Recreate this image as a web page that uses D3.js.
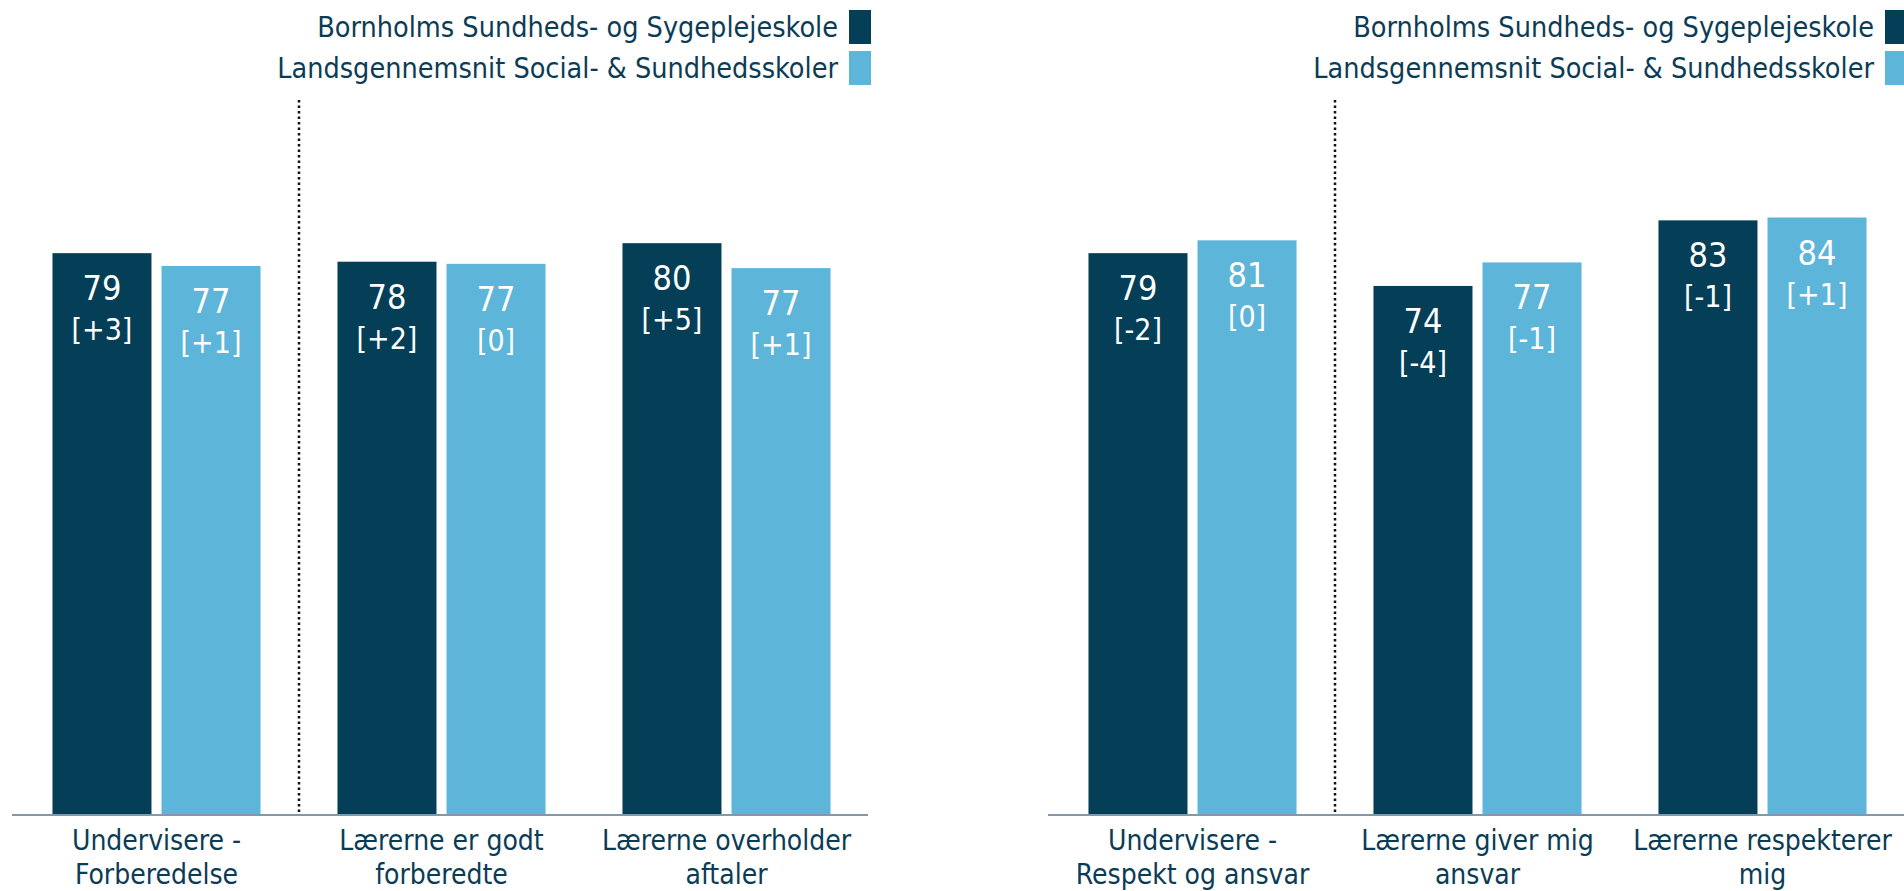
<!DOCTYPE html>
<html>
<head>
<meta charset="utf-8">
<script src="https://cdn.jsdelivr.net/npm/d3@7"></script>
<style>
  html, body { margin: 0; padding: 0; background: #fff; }
  svg { display: block; }
  text { font-family: "DejaVu Sans Condensed", "DejaVu Sans", sans-serif; font-stretch: condensed; }
</style>
</head>
<body>
<svg id="chart" width="1904" height="891"></svg>
<script>
// ---- data ----
const seriesNames = ["Bornholms Sundheds- og Sygeplejeskole", "Landsgennemsnit Social- & Sundhedsskoler"];
const leftCategories = [["Undervisere -", "Forberedelse"], ["Lærerne er godt", "forberedte"], ["Lærerne overholder", "aftaler"]];
const leftSchool = [78.8, 77.6, 80.2];
const leftNational = [77.0, 77.3, 76.7];
const leftSchoolDiff = ["[+3]", "[+2]", "[+5]"];
const leftNationalDiff = ["[+1]", "[0]", "[+1]"];
const leftLabelsSchool = [79, 78, 80];
const leftLabelsNational = [77, 77, 77];

const rightCategories = [["Undervisere -", "Respekt og ansvar"], ["Lærerne giver mig", "ansvar"], ["Lærerne respekterer", "mig"]];
const rightSchool = [78.8, 74.2, 83.4];
const rightNational = [80.6, 77.5, 83.8];
const rightSchoolDiff = ["[-2]", "[-4]", "[-1]"];
const rightNationalDiff = ["[0]", "[-1]", "[+1]"];
const rightLabelsSchool = [79, 74, 83];
const rightLabelsNational = [81, 77, 84];

const colors = ["#043F57", "#5EB5DA"];
const textColor = "#0B3C56";

const svg = d3.select("#chart");

function drawPanel(offsetX, cats, school, national, schoolLbl, nationalLbl, schoolDiff, nationalDiff) {
  const g = svg.append("g").attr("transform", `translate(${offsetX},0)`);
  const keys = cats.map((c, i) => i);
  const x0 = d3.scaleBand().domain(keys).range([14, 869]).paddingInner(0.27).paddingOuter(0.135);
  const x1 = d3.scaleBand().domain([0, 1]).range([0, x0.bandwidth()]).paddingInner(0.092);
  const y = d3.scaleLinear().domain([0, 100]).range([815, 102]);

  const rows = keys.map(i => ({
    i,
    vals: [
      { s: 0, v: school[i], lbl: schoolLbl[i], diff: schoolDiff[i] },
      { s: 1, v: national[i], lbl: nationalLbl[i], diff: nationalDiff[i] }
    ]
  }));

  // divider dotted line between first and second category
  const divX = x0(1) - x0.step() * x0.paddingInner() / 2;
  g.append("line")
    .attr("x1", divX).attr("x2", divX)
    .attr("y1", y(100) - 2).attr("y2", y(0))
    .attr("stroke", "#111").attr("stroke-width", 2.5)
    .attr("stroke-dasharray", "2.5,3");

  const grp = g.selectAll(".grp").data(rows).join("g")
    .attr("transform", d => `translate(${x0(d.i)},0)`);

  grp.selectAll("rect").data(d => d.vals).join("rect")
    .attr("x", d => x1(d.s))
    .attr("width", x1.bandwidth())
    .attr("y", d => y(d.v))
    .attr("height", d => y(0) - y(d.v))
    .attr("fill", d => colors[d.s]);

  grp.selectAll(".val").data(d => d.vals).join("text")
    .attr("class", "val")
    .attr("x", d => x1(d.s) + x1.bandwidth() / 2)
    .attr("y", d => y(d.v) + 47)
    .attr("text-anchor", "middle")
    .attr("fill", "#fff")
    .attr("font-size", 34)
    .text(d => d.lbl);

  grp.selectAll(".diff").data(d => d.vals).join("text")
    .attr("class", "diff")
    .attr("x", d => x1(d.s) + x1.bandwidth() / 2)
    .attr("y", d => y(d.v) + 87)
    .attr("text-anchor", "middle")
    .attr("fill", "#fff")
    .attr("font-size", 30)
    .text(d => d.diff);

  // x axis
  const ax = g.append("g").attr("transform", `translate(0,${y(0)})`)
    .call(d3.axisBottom(x0).tickSize(0).tickSizeOuter(0).tickFormat(() => ""));
  ax.select(".domain").attr("stroke", "#8498AC").attr("stroke-width", 2)
    .attr("d", "M12,0H868");
  ax.selectAll(".tick text").remove();
  ax.selectAll(".tick").each(function(d) {
    const t = d3.select(this).append("text")
      .attr("text-anchor", "middle")
      .attr("fill", textColor)
      .attr("font-size", 28)
      .attr("font-family", "'DejaVu Sans Condensed', 'DejaVu Sans', sans-serif");
    cats[d].forEach((line, k) => {
      t.append("tspan").attr("x", 0).attr("y", 35 + k * 34).text(line);
    });
  });

  // legend
  const lg = g.append("g");
  seriesNames.forEach((name, k) => {
    lg.append("rect").attr("x", 849).attr("y", 10 + k * 41).attr("width", 22).attr("height", 34).attr("fill", colors[k]);
    lg.append("text").attr("x", 838).attr("y", 37 + k * 41)
      .attr("text-anchor", "end").attr("fill", textColor).attr("font-size", 28.5).text(name);
  });
}

drawPanel(0, leftCategories, leftSchool, leftNational, leftLabelsSchool, leftLabelsNational, leftSchoolDiff, leftNationalDiff);
drawPanel(1036, rightCategories, rightSchool, rightNational, rightLabelsSchool, rightLabelsNational, rightSchoolDiff, rightNationalDiff);
</script>
</body>
</html>
